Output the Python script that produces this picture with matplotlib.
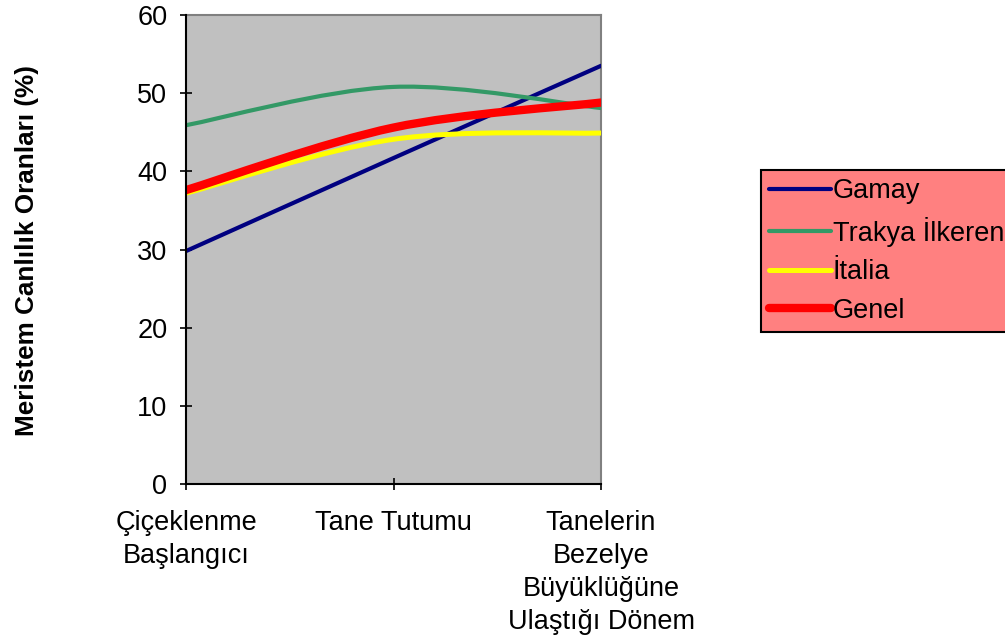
import matplotlib
matplotlib.use("Agg")
import matplotlib.pyplot as plt
from matplotlib.path import Path
from matplotlib.patches import PathPatch
from matplotlib.lines import Line2D

plt.rcParams["font.family"] = ["Liberation Sans", "DejaVu Sans"]

# Data
stages = ["Çiçeklenme\nBaşlangıcı", "Tane Tutumu",
          "Tanelerin\nBezelye\nBüyüklüğüne\nUlaştığı Dönem"]
gamay = [29.8, 41.7, 53.5]
trakya = [45.9, 50.8, 48.1]
italia = [37.2, 44.1, 44.9]
genel = [37.6, 45.6, 48.8]

series_names = ["Gamay", "Trakya İlkeren", "İtalia", "Genel"]
series_values = [gamay, trakya, italia, genel]
series_colors = ["#000080", "#339966", "#FFFF00", "#FF0000"]
series_widths = [3.0, 3.0, 3.6, 6.0]

FS = 19.5


def smooth_path(xs, ys):
    """Excel-style smoothed line: cubic Bezier with Catmull-Rom tangents."""
    pts = list(zip(xs, ys))
    n = len(pts)
    verts = [pts[0]]
    codes = [Path.MOVETO]
    for i in range(n - 1):
        p0 = pts[i - 1] if i > 0 else pts[i]
        p1 = pts[i]
        p2 = pts[i + 1]
        p3 = pts[i + 2] if i + 2 < n else pts[i + 1]
        c1 = (p1[0] + (p2[0] - p0[0]) / 6, p1[1] + (p2[1] - p0[1]) / 6)
        c2 = (p2[0] - (p3[0] - p1[0]) / 6, p2[1] - (p3[1] - p1[1]) / 6)
        verts += [c1, c2, p2]
        codes += [Path.CURVE4] * 3
    return Path(verts, codes)


fig = plt.figure(figsize=(10.05, 6.41), dpi=100)
ax = fig.add_axes([186 / 1005, 157 / 641, 415 / 1005, 469 / 641])
ax.set_facecolor("#C0C0C0")

x = list(range(len(stages)))
handles = []
for name, vals, col, lw in zip(series_names, series_values, series_colors, series_widths):
    patch = PathPatch(smooth_path(x, vals), fill=False, edgecolor=col,
                      linewidth=lw, capstyle="round", joinstyle="round", zorder=3)
    ax.add_patch(patch)
    handles.append(Line2D([], [], color=col, linewidth=lw, solid_capstyle="round"))

ax.set_xlim(0, len(stages) - 1)
ax.set_ylim(0, 60)
ax.set_yticks(range(0, 61, 10))
ax.set_xticks(x)
ax.set_xticklabels(stages, fontsize=FS, linespacing=1.35)
ax.tick_params(axis="y", labelsize=FS, direction="inout", length=9, width=1.2, pad=9)
ax.tick_params(axis="x", direction="inout", length=9, width=1.2, pad=14)

for side in ["left", "bottom"]:
    ax.spines[side].set_color("black")
    ax.spines[side].set_linewidth(1.5)
    ax.spines[side].set_zorder(4)
for side in ["top", "right"]:
    ax.spines[side].set_color("#808080")
    ax.spines[side].set_linewidth(1.5)

fig.text(27 / 1005, 1 - 251 / 641, "Meristem Canlılık Oranları (%)", rotation=90,
         fontsize=18.8, fontweight="bold", ha="center", va="center")

leg = fig.legend(handles, series_names, loc="upper left",
                 bbox_to_anchor=(761 / 1005, 1 - 170 / 641), fontsize=FS,
                 frameon=True, fancybox=False, handlelength=2.3,
                 handletextpad=0.05, borderpad=0.3, labelspacing=0.46,
                 borderaxespad=0)
frame = leg.get_frame()
frame.set_facecolor("#FF8080")
frame.set_edgecolor("black")
frame.set_linewidth(1.5)
frame.set_alpha(1)

fig.savefig("out.png", dpi=100)
